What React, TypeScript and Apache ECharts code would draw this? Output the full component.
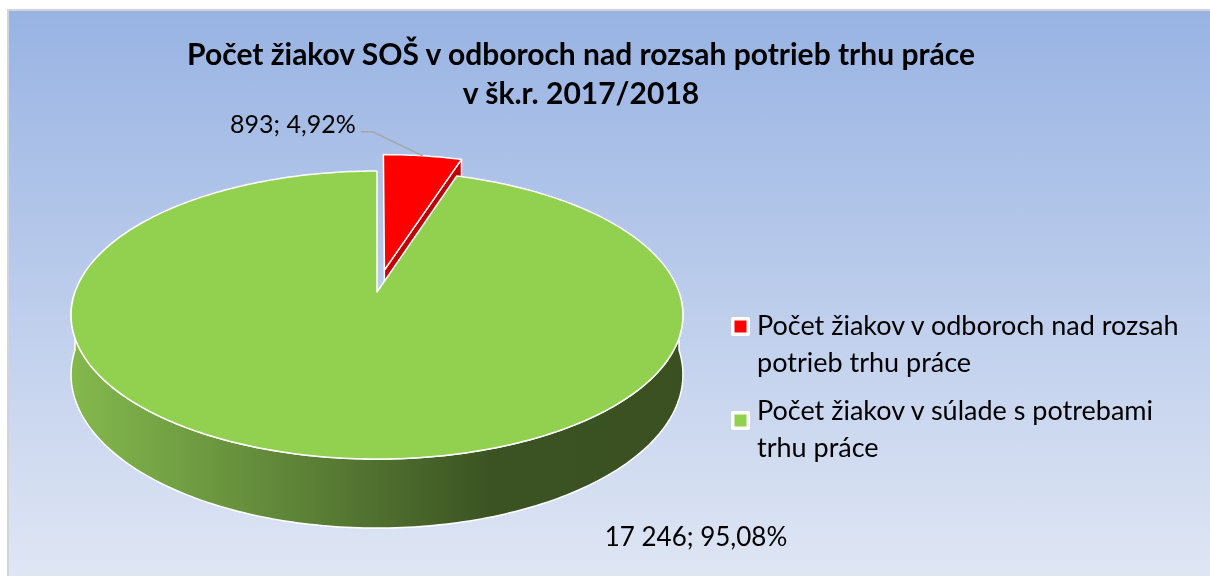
import React, { useEffect, useRef } from 'react';
import * as echarts from 'echarts';

// ---- data ----
const titleText = 'Počet žiakov SOŠ v odboroch nad rozsah potrieb trhu práce\nv šk.r. 2017/2018';
const categories = [
  'Počet žiakov v odboroch nad rozsah potrieb trhu práce',
  'Počet žiakov v súlade s potrebami trhu práce',
];
const legendLines = [
  ['Počet žiakov v odboroch nad rozsah', 'potrieb trhu práce'],
  ['Počet žiakov v súlade s potrebami', 'trhu práce'],
];
const values = [893, 17246];

// ---- style ----
const topColors = ['#ff0000', '#92d050'];
const radialWallColors = ['#c00000', '#4a6b2a'];
const greenWall = {
  type: 'linear', x: 70, y: 0, x2: 690, y2: 0, global: true,
  colorStops: [
    { offset: 0, color: '#84b94d' },
    { offset: 0.37, color: '#5d8337' },
    { offset: 0.68, color: '#3b5322' },
    { offset: 1, color: '#3a5021' },
  ],
};
const outerWallFills: any[] = ['#b00000', greenWall];
const FONT = 'Lato, "Noto Sans", sans-serif';

// ---- 3D projection geometry ----
const CX = 377, CY = 292, SX = 302, TY = 140.3, K = 0.16, DEPTH = 58, EXPLODE = 0.163;
const EXPLODED_INDEX = 0;

const total = values.reduce((a, b) => a + b, 0);
const startAngles: number[] = [];
{
  let acc = 0;
  values.forEach((v) => { startAngles.push((acc / total) * Math.PI * 2); acc += v; });
}

function proj(x: number, y: number, z: number): number[] {
  const w = 1 + K * y;
  return [CX + (SX * x) / w, CY - (TY * y) / w + (z * DEPTH) / w];
}

function fmtInt(v: number) {
  return String(v).replace(/\B(?=(\d{3})+(?!\d))/g, ' ');
}
function fmtPct(v: number) {
  return ((v / total) * 100).toFixed(2).replace('.', ',') + '%';
}

export default function App() {
  const ref = useRef<HTMLDivElement>(null);
  useEffect(() => {
    if (!ref.current) return;
    const chart = echarts.init(ref.current, undefined, { renderer: 'svg' });

    const renderItem = (params: any, api: any) => {
      const i = params.dataIndex;
      const v = api.value(0) as number;
      const a1 = startAngles[i];
      const a2 = a1 + (v / total) * Math.PI * 2;
      const mid = (a1 + a2) / 2;
      const ex = i === EXPLODED_INDEX ? EXPLODE * Math.sin(mid) : 0;
      const ey = i === EXPLODED_INDEX ? EXPLODE * Math.cos(mid) : 0;
      const P = (t: number, r: number, z: number) => proj(ex + r * Math.sin(t), ey + r * Math.cos(t), z);
      const arc = (from: number, to: number, z: number) => {
        const pts: number[][] = [];
        const n = Math.max(2, Math.ceil(Math.abs(to - from) / (Math.PI / 180)));
        for (let s = 0; s <= n; s++) pts.push(P(from + ((to - from) * s) / n, 1, z));
        return pts;
      };
      const children: any[] = [];
      // outer (front) wall
      const lo = Math.max(a1, Math.PI / 2);
      const hi = Math.min(a2, (Math.PI * 3) / 2);
      if (hi > lo) {
        const pts = arc(lo, hi, 0).concat(arc(hi, lo, 1));
        children.push({
          type: 'polygon', z2: 0,
          shape: { points: pts },
          style: { fill: outerWallFills[i], stroke: '#ffffff', lineWidth: 1.5, lineJoin: 'round' },
        });
      }
      // radial walls facing the viewer
      const radial = (t: number) => ({
        type: 'polygon', z2: 1,
        shape: { points: [P(t, 0, 0), P(t, 1, 0), P(t, 1, 1), P(t, 0, 1)] },
        style: { fill: radialWallColors[i], stroke: '#ffffff', lineWidth: 1.5, lineJoin: 'round' },
      });
      if (Math.sin(a2) > 0.01) children.push(radial(a2));
      if (Math.sin(a1) < -0.01) children.push(radial(a1));
      // top face
      children.push({
        type: 'polygon', z2: i === EXPLODED_INDEX ? 3 : 2,
        shape: { points: [P(0, 0, 0)].concat(arc(a1, a2, 0)) },
        style: { fill: topColors[i], stroke: '#ffffff', lineWidth: 1.5, lineJoin: 'round' },
      });
      // data label
      const labelText = fmtInt(v) + '; ' + fmtPct(v);
      if (Math.cos(mid) > 0) {
        const p = P(mid, 1, 0);
        const elbow = [p[0] - 50, p[1] - 24];
        const end = [elbow[0] - 12, elbow[1]];
        children.push({
          type: 'polyline', z2: 5,
          shape: { points: [p, elbow, end] },
          style: { stroke: '#a6a6a6', lineWidth: 1.5, fill: null },
        });
        children.push({
          type: 'text', z2: 6,
          style: {
            text: labelText, x: end[0] - 5, y: end[1] - 8.5,
            align: 'right', verticalAlign: 'middle',
            fontFamily: FONT, fontSize: 25, fill: '#000000',
          },
        });
      } else {
        children.push({
          type: 'text', z2: 6,
          style: {
            text: labelText, x: CX + 319, y: CY + 243.5,
            align: 'center', verticalAlign: 'middle',
            fontFamily: FONT, fontSize: 26, fill: '#000000',
          },
        });
      }
      return { type: 'group', children };
    };

    const legendGraphics: any[] = [];
    categories.forEach((name, i) => {
      const iconY = 317 + i * 94;
      const textY = 324.5 + i * 85;
      legendGraphics.push({
        type: 'rect', z: 10,
        shape: { x: 731, y: iconY, width: 19, height: 19, r: 2 },
        style: { fill: '#ffffff' },
      });
      legendGraphics.push({
        type: 'rect', z: 11,
        shape: { x: 734.5, y: iconY + 3.5, width: 12, height: 12 },
        style: { fill: topColors[i] },
      });
      legendLines[i].forEach((line, j) => {
        legendGraphics.push({
          type: 'text', z: 11,
          style: {
            text: line, x: 757, y: textY + j * 36.5,
            align: 'left', verticalAlign: 'middle',
            fontFamily: FONT, fontSize: 27, fill: '#000000',
          },
        });
      });
    });

    chart.setOption({
      animation: false,
      title: {
        text: titleText,
        left: 581,
        top: 33,
        padding: 0,
        textAlign: 'center',
        textStyle: { fontFamily: FONT, fontWeight: 'bold', fontSize: 30, lineHeight: 39, color: '#000000' },
      },
      graphic: [
        {
          type: 'rect', z: -10,
          shape: { x: 8, y: 10, width: 1202, height: 566 },
          style: {
            fill: {
              type: 'linear', x: 0, y: 10, x2: 0, y2: 576, global: true,
              colorStops: [
                { offset: 0, color: '#98b3e3' },
                { offset: 1, color: '#dfe6f4' },
              ],
            },
          },
        },
        {
          type: 'polyline', z: -9,
          shape: { points: [[8, 576], [8, 10], [1210, 10]] },
          style: { stroke: '#d4d4d4', lineWidth: 2, fill: null },
        },
        ...legendGraphics,
      ],
      series: [
        {
          type: 'custom',
          coordinateSystem: 'none',
          renderItem,
          data: values.map((v, i) => ({ value: v, name: categories[i] })),
        },
      ],
    });
    return () => chart.dispose();
  }, []);
  return <div ref={ref} style={{ position: 'fixed', left: 0, top: 0, width: 1210, height: 576 }} />;
}
